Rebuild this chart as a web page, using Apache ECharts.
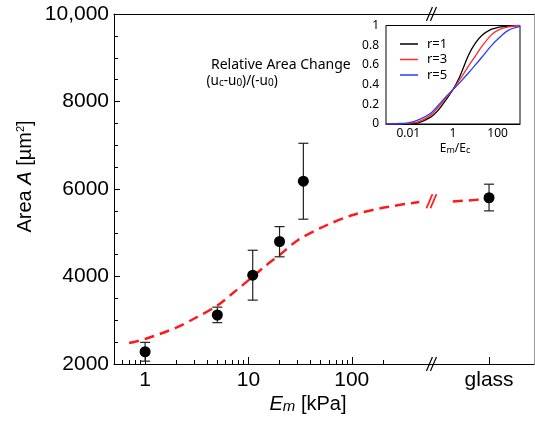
<!DOCTYPE html>
<html><head><meta charset="utf-8">
<script src="https://cdn.jsdelivr.net/npm/echarts@6/dist/echarts.min.js"></script>
<style>html,body{margin:0;padding:0;background:#fff}#c{width:535px;height:421px}</style>
</head><body><div id="c"></div>
<script>
// ---- main panel data ----
const categories = ['1 kPa', '5 kPa', '11 kPa', '20 kPa', '34 kPa', 'glass'];
const pointKPa   = [1, 5, 11, 20, 34];          // substrate stiffness
const meanArea   = [2280, 3120, 4030, 4800, 6180, 5800];
const errLow     = [2065, 2945, 3460, 4450, 5310, 5500];
const errHigh    = [2495, 3300, 4600, 5140, 7045, 6110];
const fitKPa     = [0.7, 1, 2, 3, 5, 7, 11, 15, 20, 30, 50, 100, 200, 450];
const fitArea    = [2480, 2571, 2830, 3040, 3336, 3613, 3995, 4265, 4491, 4830, 5110, 5400, 5570, 5705];
const glassFitArea = [5712, 5775];
const xTickValues = [1, 10, 100];
const xTickLabels = ['1', '10', '100', 'glass'];
const yTickValues = [2000, 4000, 6000, 8000, 10000];
// ---- inset data ----
const insetRatio = [0.001, 0.003, 0.01, 0.03, 0.1, 0.2, 0.5, 1, 2, 5, 10, 20, 50, 100, 300, 1000];
const insetR1 = [0, 0.001, 0.004, 0.015, 0.07, 0.13, 0.25, 0.35, 0.48, 0.7, 0.82, 0.9, 0.96, 0.98, 0.995, 1];
const insetR3 = [0, 0.002, 0.007, 0.025, 0.09, 0.16, 0.27, 0.35, 0.45, 0.59, 0.69, 0.79, 0.9, 0.95, 0.985, 1];
const insetR5 = [0.001, 0.004, 0.012, 0.045, 0.11, 0.18, 0.28, 0.35, 0.42, 0.52, 0.6, 0.68, 0.79, 0.86, 0.95, 0.99];
const insetSeriesNames = ['r=1', 'r=3', 'r=5'];
const insetTickValues = [0.01, 1, 100];

// axis layout constants (not data)
const X_MIN = 0.5, X_MAX = 5800, GLASS_X = 2130, BREAK_X = 590, GLASS_FIT_START = 950;

const minorMain = [0.6,0.7,0.8,0.9,2,3,4,5,6,7,8,9,20,30,40,50,60,70,80,90,200];
const minorInset = [];
[0.01, 1, 100].forEach(d => { for (let k = 2; k <= 9; k++) minorInset.push(+(d * k).toPrecision(3)); });

const LS = 'Liberation Sans';
const NS = 'Noto Sans';
const RED = '#ff1a1a';
const INSET_COLORS = ['#000000', '#ff2a2a', '#2a3cff'];

const pointX = pointKPa.concat([GLASS_X]);
const scatterData = pointX.map((x, i) => [x, meanArea[i]]);
const errData = pointX.map((x, i) => [x, errLow[i], errHigh[i]]);
const fitData = fitKPa.map((x, i) => [x, fitArea[i]]);
const glassFitData = [[GLASS_FIT_START, glassFitArea[0]], [GLASS_X, glassFitArea[1]]];

function breakMark(color, lw) {
  return function (params, api) {
    const p = api.coord([api.value(0), api.value(1)]);
    const mk = (dx) => ({ type: 'line', shape: { x1: p[0] + dx - 3, y1: p[1] + 7, x2: p[0] + dx + 3, y2: p[1] - 7 },
      style: { stroke: color, lineWidth: lw } });
    return { type: 'group', children: [mk(-2), mk(2)] };
  };
}

const insetSeries = [insetR1, insetR3, insetR5].map((ys, k) => ({
  name: insetSeriesNames[k], type: 'line', xAxisIndex: 3, yAxisIndex: 2,
  data: insetRatio.map((x, i) => [x, ys[i]]), smooth: 0.35, symbol: 'none', showSymbol: false,
  lineStyle: { color: INSET_COLORS[k], width: 1.3 }, itemStyle: { color: INSET_COLORS[k] }, z: 8
}));

const chart = echarts.init(document.getElementById('c'), null, { renderer: 'canvas' });
chart.setOption({
  animation: false,
  backgroundColor: '#fff',
  grid: [
    { left: 114, right: 1, top: 14, bottom: 57 },
    { left: 386, right: 15, top: 25.5, bottom: 297, show: true, backgroundColor: '#fff', borderColor: '#000', borderWidth: 1, z: 5 }
  ],
  xAxis: [
    { type: 'log', gridIndex: 0, min: X_MIN, max: X_MAX, position: 'bottom',
      axisLine: { onZero: false, lineStyle: { color: '#000', width: 1 } },
      axisTick: { inside: true, length: 7, customValues: xTickValues.concat([GLASS_X]), lineStyle: { color: '#000' } },
      axisLabel: { customValues: xTickValues.concat([GLASS_X]), color: '#000', fontFamily: LS, fontSize: 21, margin: 6,
        formatter: v => (Math.abs(v - GLASS_X) < 1 ? xTickLabels[3] : xTickLabels[xTickValues.indexOf(Math.round(v))]) },
      splitLine: { show: false } },
    { type: 'log', gridIndex: 0, min: X_MIN, max: X_MAX, position: 'bottom',
      axisLine: { show: false, onZero: false },
      axisTick: { inside: true, length: 4, customValues: minorMain, lineStyle: { color: '#000' } },
      axisLabel: { show: false }, splitLine: { show: false } },
    { type: 'log', gridIndex: 0, min: X_MIN, max: X_MAX, position: 'top',
      axisLine: { onZero: false, lineStyle: { color: '#000', width: 1 } },
      axisTick: { show: false }, axisLabel: { show: false }, splitLine: { show: false } },
    { type: 'log', gridIndex: 1, min: 0.001, max: 1000, position: 'bottom',
      axisLine: { onZero: false, lineStyle: { color: '#000' } },
      axisTick: { inside: true, length: 7, customValues: insetTickValues, lineStyle: { color: '#000' } },
      axisLabel: { customValues: insetTickValues, color: '#000', fontFamily: NS, fontSize: 12, margin: 4,
        formatter: v => (v < 0.1 ? '0.01' : String(Math.round(v))) },
      splitLine: { show: false } },
    { type: 'log', gridIndex: 1, min: 0.001, max: 1000, position: 'bottom',
      axisLine: { show: false, onZero: false },
      axisTick: { inside: true, length: 3.5, customValues: minorInset, lineStyle: { color: '#000' } },
      axisLabel: { show: false }, splitLine: { show: false } }
  ],
  yAxis: [
    { type: 'value', gridIndex: 0, min: 2000, max: 10000, interval: 2000, position: 'left',
      axisLine: { show: true, onZero: false, lineStyle: { color: '#000' } },
      axisTick: { show: true, inside: true, length: 6, lineStyle: { color: '#000' } },
      minorTick: { show: true, splitNumber: 4, length: 4, lineStyle: { color: '#000' } },
      axisLabel: { color: '#000', fontFamily: LS, fontSize: 21, margin: 5,
        formatter: v => (v === 10000 ? '10,000' : String(v)) },
      splitLine: { show: false }, minorSplitLine: { show: false } },
    { type: 'value', gridIndex: 0, min: 2000, max: 10000, position: 'right',
      axisLine: { show: true, onZero: false, lineStyle: { color: '#9a9a9a' } },
      axisTick: { show: false }, axisLabel: { show: false }, splitLine: { show: false } },
    { type: 'value', gridIndex: 1, min: 0, max: 1, interval: 0.2, position: 'left',
      axisLine: { show: true, onZero: false, lineStyle: { color: '#000' } },
      axisTick: { show: true, inside: true, length: 5, lineStyle: { color: '#000' } },
      minorTick: { show: true, splitNumber: 2, length: 5, lineStyle: { color: '#000' } },
      axisLabel: { color: '#000', fontFamily: NS, fontSize: 12, margin: 7,
        formatter: v => (v === 0 ? '0' : v === 1 ? '1' : v.toFixed(1)) },
      splitLine: { show: false }, minorSplitLine: { show: false } }
  ],
  legend: {
    data: insetSeriesNames, orient: 'vertical', left: 400, top: 37.5, itemWidth: 18, itemHeight: 12, itemGap: 2.5,
    icon: 'path://M0,0L18,0L18,1.5L0,1.5Z', symbolKeepAspect: true, padding: 0,
    textStyle: { fontFamily: NS, fontSize: 13, color: '#000', lineHeight: 12, padding: [0, 0, 0, 4] },
    selectedMode: false, z: 10
  },
  graphic: [
    { type: 'text', x: 25.6, y: 176.5, rotation: Math.PI / 2, z: 20,
      style: { text: 'Area {i|A} [µm{sup|2}]', fontFamily: LS, fontSize: 20, fill: '#000', align: 'center', verticalAlign: 'middle',
        rich: { i: { fontFamily: LS, fontSize: 20, fontStyle: 'italic' }, sup: { fontFamily: LS, fontSize: 11, verticalAlign: 'top' } } } },
    { type: 'text', x: 308, y: 404, z: 20,
      style: { text: '{i|E}{sub|m} [kPa]', fontFamily: LS, fontSize: 20, fill: '#000', align: 'center', verticalAlign: 'middle',
        rich: { i: { fontFamily: LS, fontSize: 20, fontStyle: 'italic' }, sub: { fontFamily: LS, fontSize: 15, fontStyle: 'italic', verticalAlign: 'bottom' } } } },
    { type: 'text', x: 211, y: 65, z: 20,
      style: { text: 'Relative Area Change', fontFamily: NS, fontSize: 14, fill: '#000', align: 'left', verticalAlign: 'middle' } },
    { type: 'text', x: 206.5, y: 81, z: 20,
      style: { text: '(u{s|c}-u{s|0})/(-u{s|0})', fontFamily: NS, fontSize: 13.5, fill: '#000', align: 'left', verticalAlign: 'middle',
        rich: { s: { fontFamily: NS, fontSize: 10, verticalAlign: 'bottom' } } } },
    { type: 'text', x: 455, y: 149, z: 20,
      style: { text: 'E{s|m}/E{s|c}', fontFamily: NS, fontSize: 12, fill: '#000', align: 'center', verticalAlign: 'middle',
        rich: { s: { fontFamily: NS, fontSize: 9, verticalAlign: 'bottom' } } } }
  ],
  series: [
    { name: 'fit', type: 'line', xAxisIndex: 0, yAxisIndex: 0, data: fitData, smooth: 0.3, showSymbol: false, symbol: 'none',
      lineStyle: { color: RED, width: 2.5, type: [10, 6] }, z: 3 },
    { name: 'fitGlass', type: 'line', xAxisIndex: 0, yAxisIndex: 0, data: glassFitData, showSymbol: false, symbol: 'none',
      lineStyle: { color: RED, width: 2.5, type: [10, 6] }, z: 3 },
    { name: 'err', type: 'custom', xAxisIndex: 0, yAxisIndex: 0, data: errData, encode: { x: 0, y: [1, 2] }, z: 4,
      renderItem: function (params, api) {
        const x = api.value(0);
        const top = api.coord([x, api.value(2)]), bot = api.coord([x, api.value(1)]);
        const st = { stroke: '#222', lineWidth: 1.2 };
        return { type: 'group', children: [
          { type: 'line', shape: { x1: top[0], y1: top[1], x2: bot[0], y2: bot[1] }, style: st },
          { type: 'line', shape: { x1: top[0] - 5, y1: top[1], x2: top[0] + 5, y2: top[1] }, style: st },
          { type: 'line', shape: { x1: bot[0] - 5, y1: bot[1], x2: bot[0] + 5, y2: bot[1] }, style: st }
        ] };
      } },
    { name: 'area', type: 'scatter', xAxisIndex: 0, yAxisIndex: 0, data: scatterData, symbol: 'circle', symbolSize: 11,
      itemStyle: { color: '#000', opacity: 1 }, z: 5 },
    { name: 'axisBreak', type: 'custom', xAxisIndex: 0, yAxisIndex: 0, data: [[BREAK_X, 2000], [BREAK_X, 10000]],
      renderItem: breakMark('#000', 1.2), z: 6, clip: false },
    { name: 'curveBreak', type: 'custom', xAxisIndex: 0, yAxisIndex: 0, data: [[BREAK_X, 5720]],
      renderItem: breakMark(RED, 1.8), z: 6, clip: false }
  ].concat(insetSeries)
});
</script></body></html>
